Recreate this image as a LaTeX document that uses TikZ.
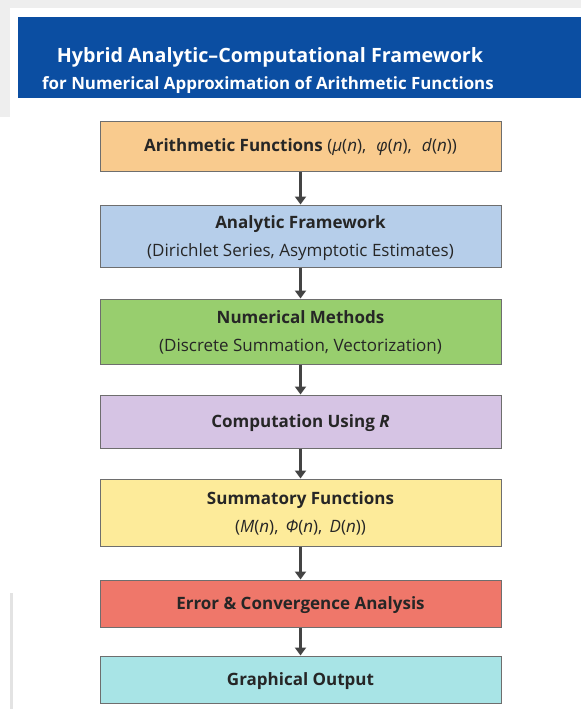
\documentclass[tikz,border=0pt]{standalone}
\usepackage{fontspec}
\setmainfont{Open Sans}
\usetikzlibrary{arrows.meta}
\definecolor{hdr}{HTML}{0B4EA2}
\definecolor{cOrange}{HTML}{F9CB8E}
\definecolor{cBlue}{HTML}{B6CEEA}
\definecolor{cGreen}{HTML}{98CE6E}
\definecolor{cPurple}{HTML}{D6C4E4}
\definecolor{cYellow}{HTML}{FDEB9A}
\definecolor{cRed}{HTML}{EF776A}
\definecolor{cCyan}{HTML}{A8E4E6}
\definecolor{edge}{HTML}{6E6E6E}
\definecolor{txt}{HTML}{262626}
\definecolor{arr}{HTML}{444444}
\definecolor{frame}{HTML}{EEEEEE}
\tikzset{
  flowbox/.style={draw=edge, line width=1pt, rectangle, minimum width=401pt,
    inner sep=0pt, align=center, text=txt},
  onel/.style={font=\fontsize{17}{20}\selectfont, text height=11pt, text depth=0pt},
  twol/.style={font=\fontsize{17}{28}\selectfont, text height=40pt, text depth=0pt},
  flowarrow/.style={draw=arr, line width=3pt, -{Triangle[width=11pt,length=8pt]}},
}
\begin{document}
\begin{tikzpicture}[x=1pt,y=-1pt]
\useasboundingbox (0,0) rectangle (581,709);
\fill[white] (0,0) rectangle (581,709);
\fill[frame] (0,0) rectangle (581,8);
\fill[frame] (0,0) rectangle (10,117);
\fill[frame!90!gray] (10,593) rectangle (13,709);
% header
\fill[hdr] (18,17) rectangle (581,98);
\node[text=white, anchor=base, font=\fontsize{19.7}{23}\selectfont\bfseries] (t1) at (270,63) {Hybrid Analytic–Computational Framework};
\node[text=white, anchor=base, font=\fontsize{16.9}{20}\selectfont\bfseries] (t2) at (268,89) {for Numerical Approximation of Arithmetic Functions};
% boxes
\node[flowbox, onel, fill=cOrange, minimum height=50pt] (b1) at (300.5,146)
  {\textbf{Arithmetic Functions} (\textit{μ}(\textit{n}),\,\, \textit{φ}(\textit{n}),\,\, \textit{d}(\textit{n}))};
\node[flowbox, twol, fill=cBlue, minimum height=62pt] (b2) at (300.5,236)
  {\textbf{Analytic Framework}\\(Dirichlet Series, Asymptotic Estimates)};
\node[flowbox, twol, fill=cGreen, minimum height=65pt] (b3) at (300.5,331.5)
  {\textbf{Numerical Methods}\\(Discrete Summation, Vectorization)};
\node[flowbox, onel, fill=cPurple, minimum height=53pt] (b4) at (300.5,421.5)
  {\textbf{Computation Using \textit{R}}};
\node[flowbox, twol, fill=cYellow, minimum height=67pt] (b5) at (300.5,512.5)
  {\textbf{Summatory Functions}\\(\textit{M}(\textit{n}),\, \textit{Φ}(\textit{n}),\, \textit{D}(\textit{n}))};
\node[flowbox, onel, fill=cRed, minimum height=47pt] (b6) at (300.5,603.5)
  {\textbf{Error \& Convergence Analysis}};
\node[flowbox, onel, fill=cCyan, minimum height=47pt] (b7) at (300.5,679.5)
  {\textbf{Graphical Output}};
% arrows
\draw[flowarrow] (b1.south) -- (b2.north);
\draw[flowarrow] (b2.south) -- (b3.north);
\draw[flowarrow] (b3.south) -- (b4.north);
\draw[flowarrow] (b4.south) -- (b5.north);
\draw[flowarrow] (b5.south) -- (b6.north);
\draw[flowarrow] (b6.south) -- (b7.north);
\end{tikzpicture}
\end{document}
